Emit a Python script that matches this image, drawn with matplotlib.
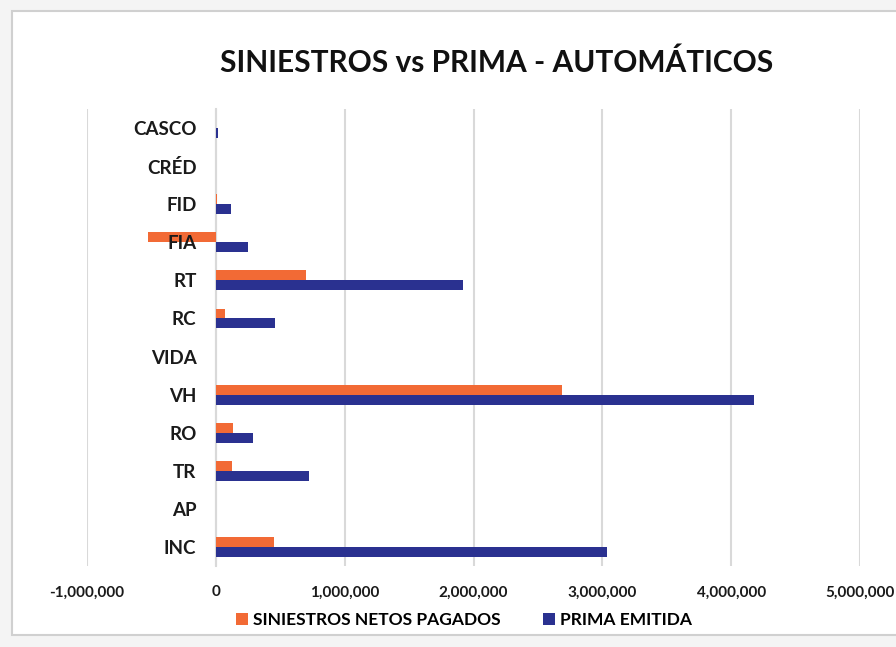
import matplotlib as mpl
mpl.use('Agg')
import matplotlib.pyplot as plt
from matplotlib.patches import Rectangle
from matplotlib.ticker import FuncFormatter
import numpy as np

plt.rcParams['font.family'] = ['Lato', 'DejaVu Sans']

# ramos, de abajo hacia arriba
ramos = ['INC', 'AP', 'TR', 'RO', 'VH', 'VIDA', 'RC', 'RT', 'FIA', 'FID', 'CRÉD', 'CASCO']
siniestros = [450000, 0, 125000, 130000, 2690000, 0, 70000, 700000, -525000, 10000, 0, 0]
prima = [3040000, 0, 720000, 290000, 4180000, 0, 460000, 1920000, 250000, 115000, 0, 15000]
ticks_x = [-1000000, 0, 1000000, 2000000, 3000000, 4000000, 5000000]

naranja = '#F26A35'
azul = '#2A3190'

fig = plt.figure(figsize=(8.96, 6.47), dpi=100)
fig.patch.set_facecolor('#F4F4F4')

# marco del grafico
marco = Rectangle((12/896, 12/647), 890/896, 624/647, transform=fig.transFigure,
                  facecolor='white', edgecolor='#D0D0D0', lw=1.5, zorder=-10)
fig.patches.append(marco)

ax = fig.add_axes([87/896, 1 - 566/647, 773/896, 457/647])
ax.set_facecolor('none')

y = np.arange(len(ramos))
h = 0.26
ax.barh(y + h/2, siniestros, height=h, color=naranja, lw=0,
        label='SINIESTROS NETOS PAGADOS', zorder=3)
ax.barh(y - h/2, prima, height=h, color=azul, lw=0,
        label='PRIMA EMITIDA', zorder=3)

ax.set_xlim(-1000000, 5000000)
ax.set_ylim(-0.5, 11.5)
ax.set_xticks(ticks_x)
ax.xaxis.set_major_formatter(FuncFormatter(lambda v, p: f'{int(v):,}'))
ax.set_yticks(y)
ax.set_yticklabels(ramos)

ax.set_axisbelow(True)
ax.yaxis.set_zorder(5)  # etiquetas encima de las barras (FIA)
ax.grid(axis='x', color='#D9D9D9', lw=1.5)
for s in ['top', 'right', 'bottom']:
    ax.spines[s].set_visible(False)
ax.spines['left'].set_position(('data', 0))
ax.spines['left'].set_color('#D9D9D9')
ax.spines['left'].set_linewidth(1.5)
ax.spines['left'].set_zorder(0.5)

ax.tick_params(axis='y', length=0, pad=14, labelsize=13.5, colors='#1A1A1A')
ax.tick_params(axis='x', length=0, pad=14, labelsize=11, colors='#1A1A1A')
for t in ax.get_yticklabels() + ax.get_xticklabels():
    t.set_fontweight('bold')

fig.text(497/896, 1 - 63/647, 'SINIESTROS vs PRIMA - AUTOMÁTICOS', ha='center', va='center',
         fontsize=21.5, fontweight='bold', color='#111111')

fig.legend(loc='center', bbox_to_anchor=(464/896, 1 - 620/647), ncol=2, frameon=False,
           prop={'size': 12.5, 'weight': 'bold'}, handlelength=0.7, handleheight=0.7,
           columnspacing=2.4, handletextpad=0.3)

fig.savefig('out.png', dpi=100)
